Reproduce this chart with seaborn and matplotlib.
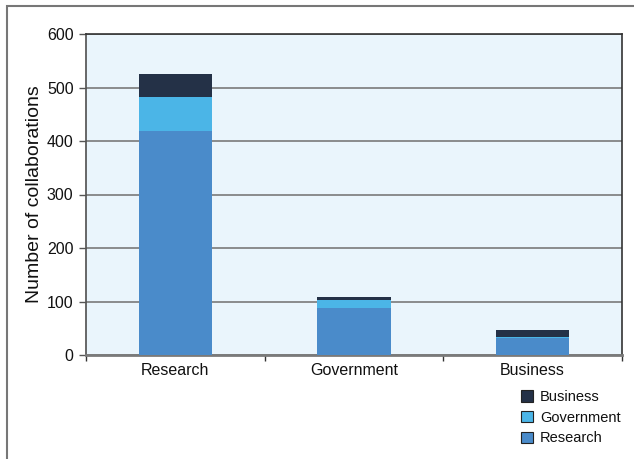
import numpy as np
import pandas as pd
import matplotlib
matplotlib.use('Agg')
import matplotlib.pyplot as plt
import seaborn as sns
from matplotlib.patches import Rectangle, Patch

# 合作对象类别（x轴）及各来源的合作数量
categories = ['Research', 'Government', 'Business']
research = [418, 88, 32]
government = [64, 15, 2]
business = [43, 6, 13]

series_names = ['Research', 'Government', 'Business']
colors = {'Research': '#4a8bca', 'Government': '#4bb5e7', 'Business': '#243147'}

sns.set_theme(style='white')
plt.rcParams['font.family'] = ['Liberation Sans', 'DejaVu Sans']
plt.rcParams['text.color'] = '#111111'
plt.rcParams['axes.labelcolor'] = '#111111'
plt.rcParams['xtick.labelcolor'] = '#111111'
plt.rcParams['ytick.labelcolor'] = '#111111'

df = pd.DataFrame({'category': categories,
                   'Research': research,
                   'Government': government,
                   'Business': business})
# 堆叠：先画总高度，再依次覆盖
df['cum_Research'] = df['Research']
df['cum_Government'] = df['cum_Research'] + df['Government']
df['cum_Business'] = df['cum_Government'] + df['Business']

fig = plt.figure(figsize=(6.34, 4.59), dpi=100)
ax = fig.add_axes([86 / 634, 1 - 355 / 459, (622 - 86) / 634, (355 - 34) / 459])
ax.set_facecolor('#eaf5fc')

for name in reversed(series_names):
    sns.barplot(data=df, x='category', y='cum_' + name, order=categories,
                color=colors[name], saturation=1, width=0.41, ax=ax,
                edgecolor='none', linewidth=0, zorder=3)

ax.set_xlim(-0.5, 2.5)
ax.set_ylim(0, 600)
ax.set_yticks(np.arange(0, 601, 100))
ax.yaxis.grid(True, color='#7a7a7a', linewidth=1.2, zorder=1)
ax.set_axisbelow(True)

ax.set_xlabel('')
ax.set_ylabel('Number of collaborations', fontsize=14, labelpad=3)
ax.tick_params(axis='y', length=5, width=1, color='#555555', labelsize=11.5, pad=4, left=True)
ax.tick_params(axis='x', length=0, labelsize=11.5, pad=6)
ax.set_xticks([-0.5, 0.5, 1.5, 2.5], minor=True)
ax.tick_params(axis='x', which='minor', length=4, width=1, color='#333333', bottom=True)

for side in ['top', 'right']:
    ax.spines[side].set_color('#333333')
    ax.spines[side].set_linewidth(1.2)
ax.spines['left'].set_color('#555555')
ax.spines['bottom'].set_color('#7a7a7a')
ax.spines['bottom'].set_linewidth(2)

# 外框
fig.patches.append(Rectangle((7 / 634, -0.1), 2, 1.1 - 6 / 459,
                             transform=fig.transFigure, fill=False,
                             edgecolor='#777777', linewidth=1.5))

handles = [Patch(facecolor=colors[n], edgecolor='#222222', linewidth=0.8)
           for n in reversed(series_names)]
fig.legend(handles, list(reversed(series_names)), loc='upper left',
           bbox_to_anchor=(508 / 634, 1 - 377 / 459), frameon=False,
           fontsize=10.5, handlelength=0.8, handleheight=0.8,
           handletextpad=0.5, labelspacing=0.45)

plt.savefig('out.png', dpi=100)
